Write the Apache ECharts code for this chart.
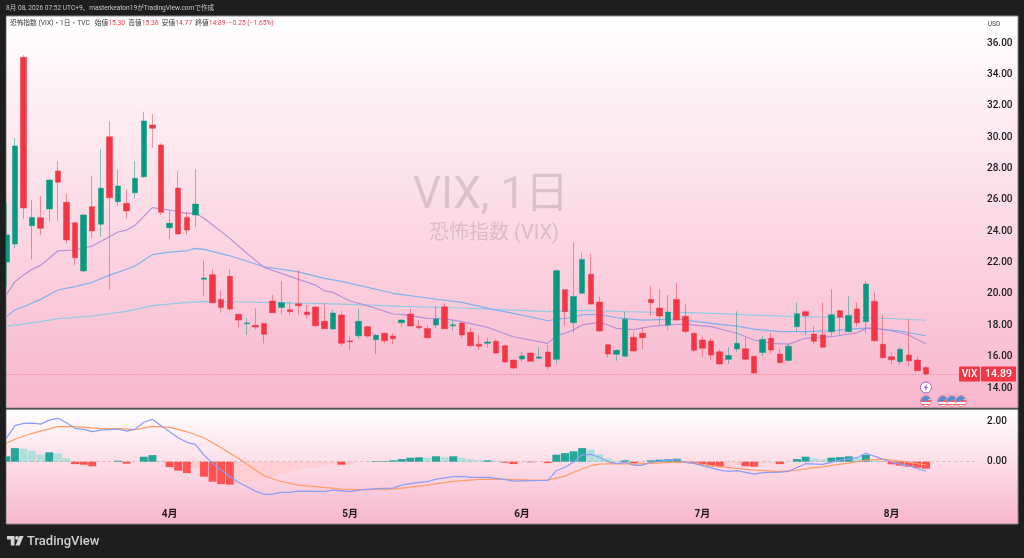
<!DOCTYPE html>
<html><head><meta charset="utf-8">
<style>html,body{margin:0;padding:0;background:#1e1e1e}#c{width:1024px;height:558px}</style>
<script src="https://cdn.jsdelivr.net/npm/echarts@6/dist/echarts.min.js"></script>
</head><body><div id="c"></div>
<script>
const opens=[22.03,23.18,35.09,24.35,24.86,25.41,27.84,25.84,24.54,21.46,25.56,24.44,30.02,25.88,25.78,26.45,27.47,30.77,29.49,24.22,26.75,24.88,25.03,20.93,21.22,19.65,21.12,18.7,18.1,18.0,18.12,19.55,19.14,18.99,19.37,18.84,19.16,18.25,17.76,18.65,17.0,17.33,17.91,17.08,17.49,17.31,18.16,18.72,17.93,17.8,18.02,19.18,17.97,18.14,17.55,16.79,16.85,16.98,16.7,15.78,15.85,16.23,15.9,16.29,15.83,20.27,18.16,20.04,21.25,19.48,16.76,16.15,16.02,17.23,17.49,19.65,19.1,18.02,19.65,18.57,17.49,17.06,17,16.31,15.83,16.49,16.5,16.02,16.27,17.17,16.17,15.76,17.91,18.87,17.44,17.38,17.59,18.93,17.59,19.04,18.23,19.53,16.79,16,15.68,16.1,15.78,15.30];
const closes=[23.76,29.43,25.48,24.88,24.18,27.26,27.12,23.44,22.31,25.03,24.01,26.73,26.13,26.88,25.29,27.37,31.03,30.56,25.2,24.5,23.82,24.07,25.73,21.01,19.44,19.14,19.04,18.33,18.15,17.89,17.42,18.8,19.44,18.87,19.25,18.67,17.97,17.78,18.78,16.85,16.95,18.25,17.31,17.36,17.01,17.14,18.33,17.95,17.84,17.2,18.4,17.78,18.03,17.38,16.7,16.66,16.93,16.23,15.66,15.27,16.04,15.7,15.98,15.36,21.48,18.87,19.84,22.2,19.35,17.63,16.17,16.4,18.38,16.36,17.21,19.44,18.59,18.84,18.33,17.61,16.4,16.53,16.1,15.53,16.07,16.85,15.83,14.95,17.1,16.42,15.61,16.66,18.74,18.61,16.98,16.6,18.67,18.51,18.63,18.16,20.63,17.01,15.93,15.8,16.47,15.74,15.1,14.89];
const lows=[20.44,22.93,24.78,22.2,23.76,24.6,24.67,23.23,21.84,21.4,23.55,23.65,20.29,25.62,24.82,26.1,27.4,29.32,25.03,23.48,23.8,23.76,24.28,19.86,19.4,18.8,18.93,17.87,17.38,17.74,16.85,18.78,18.72,18.65,18.65,18.44,17.95,17.75,17.74,16.7,16.42,17.12,17.2,16.17,16.85,16.8,17.87,17.91,17.74,17.15,17.8,17.75,17.65,17.17,16.6,16.42,16.57,16.2,15.62,15.2,15.68,15.67,15.85,15.19,15.57,17.95,17.52,20.0,19.3,17.6,15.93,15.74,16.0,16.3,16.47,18.59,18.02,17.7,18.3,17.5,16.27,15.96,15.78,15.5,15.53,16.31,15.8,14.9,16.04,16.21,15.58,15.72,17.59,17.38,16.8,16.58,17.31,17.38,17.55,17.91,17.49,16.95,15.83,15.51,15.47,15.42,15.07,14.77];
const highs=[25.8,29.94,35.23,26,26.24,27.3,28.47,26.4,24.6,25.1,27.52,29.24,31.03,27.95,26.63,28.47,31.62,31.47,29.6,25.35,27.84,25.24,27.96,22.12,21.59,20.25,21.57,18.72,18.45,19.08,18.15,19.93,20.82,19.5,21.52,19.29,19.25,19.4,18.97,18.9,17.31,19.06,17.95,17.44,17.53,17.5,18.4,19.06,18.33,18.0,19.23,19.4,18.33,18.2,17.87,17.36,17.2,17.1,16.75,15.82,16.31,16.27,16.6,16.74,21.57,20.3,23.29,22.63,22.54,19.82,16.82,16.45,18.87,17.6,17.87,20.52,20.31,19.93,20.71,19.4,17.55,17.27,17.17,16.47,16.6,18.89,17.23,16.06,17.31,17.52,16.5,16.8,19.46,18.95,17.95,19.46,20.29,19.0,19.86,19.46,20.84,20.08,18.65,16.25,16.6,18.38,16,15.36];

const purpleLine=[[0,19.93],[1,20.78],[2,21.2],[3,21.57],[4,21.82],[5,22.27],[6,22.75],[8,22.8],[10,23.05],[12,23.65],[13,23.95],[14,24.07],[15,24.39],[17,25.5],[19,25.35],[21,25.14],[22,25.14],[23,24.82],[26,23.54],[28,22.59],[30,21.69],[32,21.31],[34,20.93],[36,20.56],[37,20.2],[38,20.1],[39,19.82],[40,19.55],[42,19.25],[45,18.72],[46,18.7],[49,18.44],[51,18.42],[53,18.23],[56,17.87],[59,17.27],[63,16.85],[64,17.31],[66,17.7],[67,18.03],[69,18.19],[70,18.02],[71,17.8],[73,17.72],[75,17.93],[78,18.06],[79,18.06],[82,17.91],[85,17.49],[87,17.06],[89,16.85],[91,16.8],[93,17.17],[96,17.27],[99,17.52],[100,17.8],[101,17.8],[103,17.65],[105,17.38],[107,16.8]];
const blueLine=[[0,18.55],[1,18.97],[2,19.18],[4,19.65],[6,20.25],[8,20.46],[10,20.74],[12,21.2],[14,21.57],[15,21.8],[17,22.5],[19,22.67],[21,22.75],[22,22.9],[23,22.84],[26,22.43],[30,21.73],[34,21.41],[37,20.99],[39,20.8],[45,20.04],[49,19.74],[53,19.46],[57,18.97],[59,18.76],[63,18.29],[64,18.38],[66,18.51],[67,18.67],[69,18.7],[71,18.48],[74,18.33],[77,18.38],[78,18.42],[79,18.33],[83,18.06],[85,17.95],[87,17.76],[90,17.59],[93,17.59],[96,17.65],[99,17.78],[100,17.82],[101,17.8],[104,17.63],[107,17.33]];
const cyanLine=[[0,17.93],[4,18.23],[6,18.42],[10,18.59],[14,18.89],[17,19.25],[21,19.46],[23,19.53],[26,19.5],[31,19.44],[39,19.35],[46,19.21],[53,19.1],[57,19.02],[63,18.87],[66,18.93],[68,18.95],[72,18.87],[78,18.8],[79,18.82],[87,18.65],[92,18.55],[100,18.48],[104,18.4],[107,18.32]];

const macdLine=[[0,1.17],[1,1.8],[2,1.92],[3,1.93],[4,1.88],[5,2.08],[6,2.17],[7,1.95],[8,1.67],[9,1.62],[10,1.5],[11,1.58],[13,1.63],[14,1.53],[15,1.63],[16,1.97],[17,2.12],[18,1.8],[19,1.5],[20,1.2],[21,.97],[22,.87],[23,.33],[24,-.08],[25,-.42],[26,-.75],[27,-1.03],[28,-1.25],[29,-1.47],[30,-1.63],[31,-1.62],[32,-1.53],[33,-1.53],[34,-1.47],[36,-1.48],[37,-1.5],[38,-1.42],[39,-1.46],[40,-1.5],[41,-1.42],[43,-1.35],[45,-1.32],[46,-1.17],[48,-1.03],[49,-1],[50,-.87],[52,-.75],[53,-.73],[54,-.78],[56,-.78],[58,-.88],[59,-.97],[61,-.95],[63,-.93],[64,-.45],[65,-.28],[66,-.03],[67,.33],[68,.37],[69,.22],[70,0],[71,-.1],[72,-.03],[73,-.18],[74,-.18],[75,-.03],[76,.03],[78,.12],[79,-.03],[80,-.08],[83,-.42],[84,-.48],[85,-.45],[87,-.62],[88,-.55],[90,-.52],[91,-.48],[93,-.1],[95,-.13],[97,.08],[99,.2],[100,.42],[101,.28],[103,-.03],[105,-.2],[107,-.48]];
const signalLine=[[0,.92],[1,1.12],[3,1.42],[4,1.53],[6,1.75],[8,1.75],[11,1.65],[13,1.65],[15,1.6],[17,1.77],[19,1.72],[21,1.5],[23,1.2],[25,.7],[27,.17],[29,-.42],[30,-.7],[32,-1],[34,-1.17],[36,-1.25],[39,-1.37],[41,-1.4],[45,-1.37],[49,-1.17],[52,-.98],[55,-.88],[58,-.88],[61,-.92],[63,-.92],[65,-.72],[66,-.53],[68,-.2],[69,-.12],[71,-.1],[73,-.12],[75,-.08],[78,-.02],[79,-.03],[83,-.25],[87,-.42],[90,-.5],[92,-.42],[95,-.25],[98,-.07],[100,.08],[102,.13],[104,.03],[106,-.1],[107,-.17]];
const histogram=[.27,.68,.65,.55,.37,.47,.43,.17,-.12,-.15,-.23,-.02,-.02,.05,-.1,-.01,.25,.33,.03,-.27,-.45,-.57,-.35,-.75,-1,-1.12,-1.15,-1.15,-1.05,-1,-.88,-.72,-.58,-.52,-.42,-.33,-.3,-.22,-.13,-.15,-.15,-.03,-.02,.03,.03,.07,.13,.2,.22,.2,.27,.22,.27,.2,.13,.07,.07,.03,-.05,-.12,-.02,-.03,-.02,-.07,.35,.43,.52,.68,.6,.37,.17,.03,.07,-.08,-.08,.07,.1,.12,.15,-.03,-.05,-.13,-.23,-.27,-.2,-.15,-.23,-.25,-.08,-.05,-.12,-.02,.13,.25,.17,.12,.2,.23,.27,.18,.35,.08,-.02,-.13,-.2,-.25,-.3,-.35];

const monthIndex=[19,40,60,81,103];
const monthLabels=['4月','5月','6月','7月','8月'];
const priceTicks={min:14,max:36,interval:2};
const macdTicks={min:-2,max:4,interval:2};
const lastClose=closes[closes.length-1];

const barCount=119;
const cats=Array.from({length:barCount},(_,i)=>String(i));
const candleData=opens.map((o,i)=>[o,closes[i],lows[i],highs[i]]);
const UI='Roboto,"Noto Sans CJK JP",sans-serif';
const histData=histogram.map((v,i)=>{
  const p=i?histogram[i-1]:0;
  const color=v>=0?(v>=p?'#26a69a':'#b2dfdb'):(v<p?'#ff5252':'#ffcdd2');
  return {value:v,itemStyle:{color}};
});
const paneFill={type:'linear',x:0,y:0,x2:0,y2:1,colorStops:[{offset:0,color:'#ffffff'},{offset:1,color:'#f8b6cd'}]};
const noLine=()=>({show:false});
const chart=echarts.init(document.getElementById('c'),null,{renderer:'canvas'});
chart.setOption({
  animation:false,backgroundColor:'#1e1e1e',
  grid:[{left:6.3,width:1014.2,top:43,height:345},{left:6.3,width:1014.2,top:381.7,height:120}],
  xAxis:[
    {type:'category',gridIndex:0,data:cats,boundaryGap:false,show:false},
    {type:'category',gridIndex:1,data:cats,boundaryGap:false,axisLine:noLine(),axisTick:noLine(),splitLine:noLine(),
     axisLabel:{interval:(i)=>monthIndex.includes(i),formatter:(v)=>{const k=monthIndex.indexOf(+v);return k<0?'':monthLabels[k];},
       color:'#1a1a1a',fontSize:10,fontWeight:700,fontFamily:UI,margin:8}}
  ],
  yAxis:[
    {type:'value',gridIndex:0,position:'right',scale:true,...priceTicks,axisLine:noLine(),axisTick:noLine(),splitLine:noLine(),
     axisLabel:{inside:true,align:'left',margin:33.5,color:'#1a1a1a',fontSize:10,fontWeight:500,fontFamily:UI,formatter:v=>v.toFixed(2)}},
    {type:'value',gridIndex:1,position:'right',...macdTicks,axisLine:noLine(),axisTick:noLine(),splitLine:noLine(),
     axisLabel:{inside:true,align:'left',margin:33.5,color:'#1a1a1a',fontSize:10,fontWeight:500,fontFamily:UI,formatter:v=>(v===0||v===2)?v.toFixed(2):''}}
  ],
  series:[
    {type:'line',xAxisIndex:0,yAxisIndex:0,data:cyanLine,showSymbol:false,silent:true,z:2,lineStyle:{color:'#93cbe4',width:1.2}},
    {type:'line',xAxisIndex:0,yAxisIndex:0,data:blueLine,showSymbol:false,silent:true,z:2,lineStyle:{color:'#7fb0ee',width:1.2}},
    {type:'line',xAxisIndex:0,yAxisIndex:0,data:purpleLine,showSymbol:false,silent:true,z:2,lineStyle:{color:'#b493d8',width:1.2}},
    {type:'candlestick',xAxisIndex:0,yAxisIndex:0,data:candleData,barWidth:6,z:3,silent:true,
     itemStyle:{color:'#089981',color0:'#f23645',borderColor:'rgba(8,153,129,.5)',borderColor0:'rgba(242,54,69,.5)',borderWidth:1},
     markLine:{silent:true,symbol:'none',animation:false,label:{show:false},lineStyle:{color:'rgba(242,54,69,.6)',type:[1,2],width:1},
       data:[[{xAxis:cats[0],yAxis:lastClose},{xAxis:cats[113],yAxis:lastClose}]]}},
    {type:'bar',xAxisIndex:1,yAxisIndex:1,data:histData,barWidth:8,z:2,silent:true,
     markLine:{silent:true,symbol:'none',animation:false,label:{show:false},lineStyle:{color:'rgba(120,120,120,.3)',type:[3,3],width:1},
       data:[[{xAxis:cats[0],yAxis:0},{xAxis:cats[113],yAxis:0}]]}},
    {type:'line',xAxisIndex:1,yAxisIndex:1,data:signalLine,showSymbol:false,silent:true,z:3,lineStyle:{color:'#ff9d66',width:1.2}},
    {type:'line',xAxisIndex:1,yAxisIndex:1,data:macdLine,showSymbol:false,silent:true,z:4,lineStyle:{color:'#8b9cf4',width:1.2}}
  ]
});
const yLast=chart.convertToPixel({yAxisIndex:0},lastClose);
const xLast=chart.convertToPixel({xAxisIndex:0},cats[closes.length-1]);
const legendRich={a:{fill:'#3a3a3a',fontSize:6.7,fontFamily:UI},b:{fill:'#f23645',fontSize:6.7,fontFamily:UI}};
const stripes={type:'linear',x:0,y:0,x2:0,y2:1,colorStops:[{offset:0,color:'#f8e8ec'},{offset:.44,color:'#f8e8ec'},{offset:.44,color:'#f0616e'},{offset:.58,color:'#f0616e'},{offset:.58,color:'#ffffff'},{offset:.72,color:'#ffffff'},{offset:.72,color:'#f0616e'},{offset:.86,color:'#f0616e'},{offset:.86,color:'#ffffff'},{offset:1,color:'#ffffff'}]};
const flag=(x,y)=>({type:'group',x,y,z:50,children:[
  {type:'circle',shape:{r:5.5},z:50,style:{fill:stripes,stroke:'#f7808c',lineWidth:1}},
  {type:'sector',shape:{r:5,r0:0,startAngle:Math.PI*.95,endAngle:Math.PI*1.85},z:51,style:{fill:'#5b8bd0'}}
]});
chart.setOption({graphic:[
  {type:'rect',z:-10,shape:{x:6,y:16,width:1012,height:392},style:{fill:paneFill,stroke:'#8a8a8a',lineWidth:1}},
  {type:'rect',z:-10,shape:{x:6,y:409.5,width:1012,height:114.5},style:{fill:paneFill,stroke:'#8a8a8a',lineWidth:1}},
  {type:'rect',z:70,shape:{x:0,y:16,width:5.6,height:509},style:{fill:'#1e1e1e'}},
  {type:'text',z:-5,x:491,y:197,style:{text:'VIX, 1日',fill:'rgba(90,80,85,.2)',font:'400 44px '+UI,textAlign:'center',textVerticalAlign:'middle'}},
  {type:'text',z:-5,x:494,y:234,style:{text:'恐怖指数 (VIX)',fill:'rgba(90,80,85,.2)',font:'400 20px '+UI,textAlign:'center',textVerticalAlign:'middle'}},
  {type:'text',z:50,x:6,y:8,style:{text:'8月 08, 2026 07:52 UTC+9、masterkeaton19がTradingView.comで作成',fill:'#c8c8c8',font:'6.6px '+UI,textVerticalAlign:'middle'}},
  {type:'text',z:50,x:10,y:23,style:{rich:legendRich,textVerticalAlign:'middle',text:'{a|恐怖指数 (VIX)・1日・TVC   始値}{b|15.30}{a|  高値}{b|15.36}{a|  安値}{b|14.77}{a|  終値}{b|14.89  −0.25 (−1.65%)}'}},
  {type:'text',z:50,x:994,y:24,style:{text:'USD',fill:'#3a3a3a',font:'6.5px '+UI,textAlign:'center',textVerticalAlign:'middle'}},
  {type:'rect',z:60,shape:{x:959,y:yLast-7.5,width:21,height:15,r:1},style:{fill:'#f23645'}},
  {type:'rect',z:60,shape:{x:981,y:yLast-7.5,width:35,height:15,r:1},style:{fill:'#f23645'}},
  {type:'text',z:61,x:969.5,y:yLast,style:{text:'VIX',fill:'#fff',font:'500 10px '+UI,textAlign:'center',textVerticalAlign:'middle'}},
  {type:'text',z:61,x:998.5,y:yLast,style:{text:'14.89',fill:'#fff',font:'500 10.5px '+UI,textAlign:'center',textVerticalAlign:'middle'}},
  {type:'circle',z:50,x:xLast,y:387.5,shape:{r:5.5},style:{fill:'#fff',stroke:'#9c5fd6',lineWidth:1}},
  {type:'polygon',z:51,x:xLast,y:387.5,shape:{points:[[1,-3.5],[-2,0.5],[-0.3,0.5],[-1,3.5],[2,-0.5],[0.3,-0.5]]},style:{fill:'#8a4fd0'}},
  flag(xLast,401),flag(xLast+17,401),flag(xLast+26,401),flag(xLast+35,401),
  {type:'polygon',z:50,shape:{points:[[7,536],[14.5,536],[14.5,545.5],[10.8,545.5],[10.8,539.6],[7,539.6]]},style:{fill:'#d4d4d4'}},
  {type:'circle',z:50,shape:{cx:17,cy:537.9,r:1.9},style:{fill:'#d4d4d4'}},
  {type:'polygon',z:50,shape:{points:[[19.5,536],[23.6,536],[19.6,545.5],[15.5,545.5]]},style:{fill:'#d4d4d4'}},
  {type:'text',z:50,x:27,y:542,style:{text:'TradingView',fill:'#cfcfcf',font:'500 13px '+UI,textVerticalAlign:'middle'}}
]});
</script></body></html>
